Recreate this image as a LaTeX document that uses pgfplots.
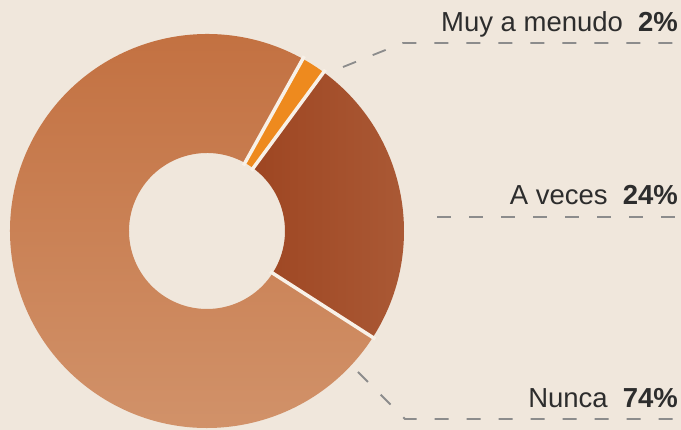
\documentclass[border=0pt]{standalone}
\usepackage{pgfplots}
\pgfplotsset{compat=1.18}
\usepackage{fontspec}
\setmainfont{Liberation Sans}
\definecolor{bg}{RGB}{240,231,220}
\definecolor{nuncatop}{RGB}{194,111,63}
\definecolor{nuncabot}{RGB}{210,148,108}
\definecolor{aveces}{RGB}{158,70,34}
\definecolor{avecesedge}{RGB}{172,92,56}
\definecolor{muy}{RGB}{238,138,30}
\definecolor{sepcol}{RGB}{248,241,232}
\definecolor{txt}{RGB}{45,45,45}
\definecolor{leadcol}{RGB}{140,140,140}
% data (percent)
\def\vMuy{2}
\def\vAveces{24}
\def\vNunca{74}
\pgfmathsetmacro\sA{60.9}
\pgfmathsetmacro\eA{\sA-\vMuy*3.6}
\pgfmathsetmacro\eB{\eA-\vAveces*3.6}
\pgfmathsetmacro\eC{\eB-\vNunca*3.6}
\def\Ro{197}
\def\Ri{78}
\def\Rsi{75}
\def\Rso{200}
\begin{document}
\begin{tikzpicture}
\begin{axis}[
  scale only axis, width=681pt, height=430pt,
  xmin=0, xmax=681, ymin=0, ymax=430,
  hide axis, clip=false,
]
\fill[bg] (axis cs:0,0) rectangle (axis cs:681,430);
\coordinate (c) at (axis cs:207,199);
% segments
\fill[muy] ([shift={(\sA:\Ro)}]c) arc[start angle=\sA, end angle=\eA, radius=\Ro]
  -- ([shift={(\eA:\Ri)}]c) arc[start angle=\eA, end angle=\sA, radius=\Ri] -- cycle;
\shade[left color=aveces, right color=avecesedge] ([shift={(\eA:\Ro)}]c) arc[start angle=\eA, end angle=\eB, radius=\Ro]
  -- ([shift={(\eB:\Ri)}]c) arc[start angle=\eB, end angle=\eA, radius=\Ri] -- cycle;
\shade[top color=nuncatop, bottom color=nuncabot] ([shift={(\eB:\Ro)}]c) arc[start angle=\eB, end angle=\eC, radius=\Ro]
  -- ([shift={(\eC:\Ri)}]c) arc[start angle=\eC, end angle=\eB, radius=\Ri] -- cycle;
% separators
\draw[sepcol, line width=3.5pt] ([shift={(\sA:\Rsi)}]c) -- ([shift={(\sA:\Rso)}]c);
\draw[sepcol, line width=3.5pt] ([shift={(\eA:\Rsi)}]c) -- ([shift={(\eA:\Rso)}]c);
\draw[sepcol, line width=3.5pt] ([shift={(\eB:\Rsi)}]c) -- ([shift={(\eB:\Rso)}]c);
% leader lines
\draw[leadcol, line width=1.8pt, dash pattern=on 14pt off 18pt]
  (axis cs:343,363) -- (axis cs:403,387) -- (axis cs:681,387);
\draw[leadcol, line width=1.8pt, dash pattern=on 14pt off 18pt]
  (axis cs:437,213) -- (axis cs:681,213);
\draw[leadcol, line width=1.8pt, dash pattern=on 14pt off 18pt]
  (axis cs:358,58) -- (axis cs:405,11) -- (axis cs:681,11);
% labels
\node[anchor=base east, inner sep=0pt, text=txt, font=\fontsize{27.5}{31}\selectfont]
  at (axis cs:678,398) {Muy a menudo\hspace{15pt}\textbf{\vMuy\%}};
\node[anchor=base east, inner sep=0pt, text=txt, font=\fontsize{27.5}{31}\selectfont]
  at (axis cs:678,225) {A veces\hspace{15pt}\textbf{\vAveces\%}};
\node[anchor=base east, inner sep=0pt, text=txt, font=\fontsize{27.5}{31}\selectfont]
  at (axis cs:678,22) {Nunca\hspace{15pt}\textbf{\vNunca\%}};
\end{axis}
\pgfresetboundingbox
\path[use as bounding box] (0,0) rectangle (681pt,430pt);
\end{tikzpicture}
\end{document}
